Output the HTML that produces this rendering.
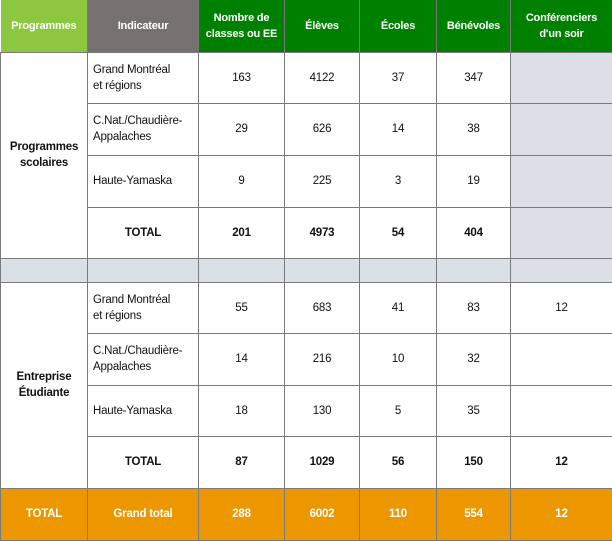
<!DOCTYPE html>
<html><head><meta charset="utf-8"><style>
html,body{margin:0;padding:0;background:#fff;overflow:hidden;}
table{border-collapse:collapse;table-layout:fixed;width:612px;height:539px;font-family:"Liberation Sans",sans-serif;font-size:11.5px;color:#111;letter-spacing:-0.2px;}
td{border:1px solid #7a7a7a;text-align:center;vertical-align:middle;padding:0 2px;line-height:16px;}
.h td{color:#fff;font-weight:bold;border-top:none;font-size:11px;}
.pg{background:#8dc63f;}
.gr{background:#767171;}
.dg{background:#008000;}
.l{text-align:left;padding-left:5px;}
.b{font-weight:bold;}
.s{background:#dae0e6;}
.o td{background:#ed9700;color:#fff;font-weight:bold;}
</style></head><body>
<table>
<colgroup><col style="width:87px"><col style="width:111px"><col style="width:86px"><col style="width:75px"><col style="width:77px"><col style="width:74px"><col style="width:102px"></colgroup>
<tr class="h" style="height:52px"><td class="pg" style="border-left:none">Programmes</td><td class="gr">Indicateur</td><td class="dg">Nombre de<br>classes ou EE</td><td class="dg">Élèves</td><td class="dg">Écoles</td><td class="dg">Bénévoles</td><td class="dg">Conférenciers<br>d'un soir</td></tr>
<tr style="height:51px"><td rowspan="4" class="b">Programmes<br>scolaires</td><td class="l">Grand Montréal<br>et régions</td><td>163</td><td>4122</td><td>37</td><td>347</td><td class="s"></td></tr>
<tr style="height:52px"><td class="l">C.Nat./Chaudière-<br>Appalaches</td><td>29</td><td>626</td><td>14</td><td>38</td><td class="s"></td></tr>
<tr style="height:52px"><td class="l">Haute-Yamaska</td><td>9</td><td>225</td><td>3</td><td>19</td><td class="s"></td></tr>
<tr style="height:51px" class="b"><td>TOTAL</td><td>201</td><td>4973</td><td>54</td><td>404</td><td class="s"></td></tr>
<tr style="height:24px"><td class="s"></td><td class="s"></td><td class="s"></td><td class="s"></td><td class="s"></td><td class="s"></td><td class="s"></td></tr>
<tr style="height:51px"><td rowspan="4" class="b">Entreprise<br>Étudiante</td><td class="l">Grand Montréal<br>et régions</td><td>55</td><td>683</td><td>41</td><td>83</td><td>12</td></tr>
<tr style="height:52px"><td class="l">C.Nat./Chaudière-<br>Appalaches</td><td>14</td><td>216</td><td>10</td><td>32</td><td></td></tr>
<tr style="height:51px"><td class="l">Haute-Yamaska</td><td>18</td><td>130</td><td>5</td><td>35</td><td></td></tr>
<tr style="height:52px" class="b"><td>TOTAL</td><td>87</td><td>1029</td><td>56</td><td>150</td><td>12</td></tr>
<tr style="height:52px" class="o"><td>TOTAL</td><td>Grand total</td><td>288</td><td>6002</td><td>110</td><td>554</td><td>12</td></tr>
</table>
</body></html>
